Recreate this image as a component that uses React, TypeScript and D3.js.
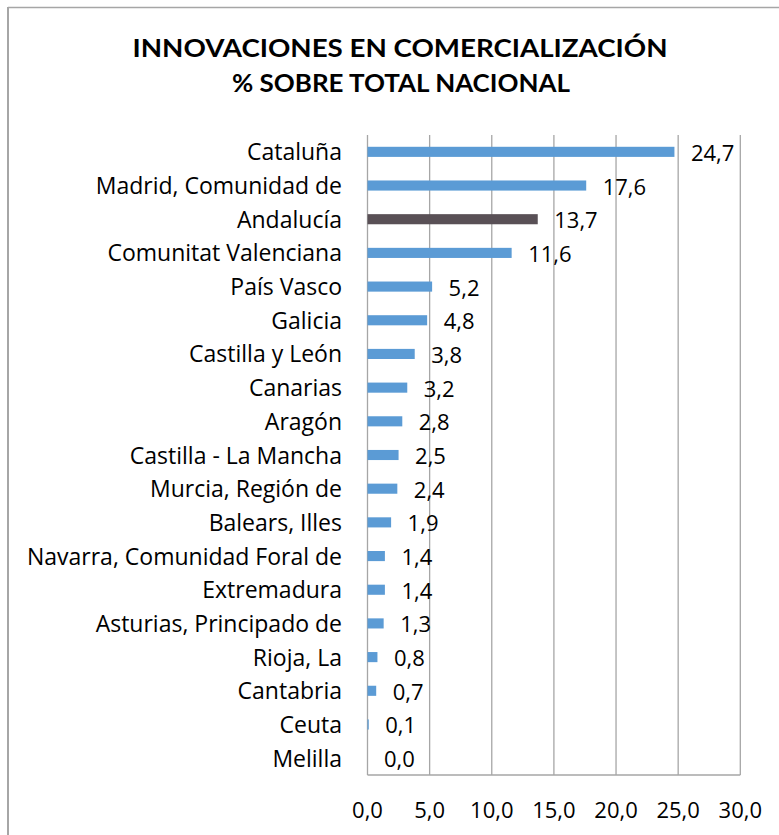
import { useMemo } from 'react'
import * as d3 from 'd3'

const WIDTH = 779
const HEIGHT = 835
const PLOT = { left: 367.5, right: 740.3, top: 135, bottom: 775 }

const regions = [
  'Cataluña',
  'Madrid, Comunidad de',
  'Andalucía',
  'Comunitat Valenciana',
  'País Vasco',
  'Galicia',
  'Castilla y León',
  'Canarias',
  'Aragón',
  'Castilla - La Mancha',
  'Murcia, Región de',
  'Balears, Illes',
  'Navarra, Comunidad Foral de',
  'Extremadura',
  'Asturias, Principado de',
  'Rioja, La',
  'Cantabria',
  'Ceuta',
  'Melilla',
]
const values = [24.7, 17.6, 13.7, 11.6, 5.2, 4.8, 3.8, 3.2, 2.8, 2.5, 2.4, 1.9, 1.4, 1.4, 1.3, 0.8, 0.7, 0.1, 0.0]
const ticks = [0, 5, 10, 15, 20, 25, 30]
const highlight = 'Andalucía'

const FONT = '"Open Sans", Lato, sans-serif'
const TITLE_FONT = 'Lato, "Open Sans", sans-serif'
const fmt = (v: number) => v.toFixed(1).replace('.', ',')

export default function App() {
  const rows = useMemo(() => regions.map((name, i) => ({ name, value: values[i] })), [])

  const x = d3.scaleLinear().domain([0, 30]).range([PLOT.left, PLOT.right])
  const y = d3.scaleBand().domain(regions).range([PLOT.top, PLOT.bottom]).paddingInner(0.7).paddingOuter(0.35)
  const mid = (name: string) => (y(name) ?? 0) + y.bandwidth() / 2

  return (
    <svg width={WIDTH} height={HEIGHT} style={{ display: 'block', position: 'absolute', left: 0, top: 0 }}>
      <rect width={WIDTH} height={HEIGHT} fill="#fff" />
      {/* chart border */}
      <line x1={8} x2={WIDTH} y1={7.5} y2={7.5} stroke="#a6a6a6" strokeWidth={1.5} />
      <line x1={8} x2={8} y1={7} y2={HEIGHT} stroke="#a6a6a6" strokeWidth={2} />

      <text x={400} y={57} textAnchor="middle" fontFamily={TITLE_FONT} fontWeight={700} fontSize={25}
        textLength={535} lengthAdjust="spacingAndGlyphs" fill="#000">
        INNOVACIONES EN  COMERCIALIZACIÓN
      </text>
      <text x={401} y={92} textAnchor="middle" fontFamily={TITLE_FONT} fontWeight={700} fontSize={24}
        textLength={338} lengthAdjust="spacingAndGlyphs" fill="#000">
        %  SOBRE TOTAL NACIONAL
      </text>

      {/* gridlines */}
      {ticks.map(t => (
        <line key={t} x1={x(t)} x2={x(t)} y1={PLOT.top} y2={PLOT.bottom} stroke="#a6a6a6" strokeWidth={1.3} />
      ))}
      <line x1={PLOT.left} x2={PLOT.right} y1={PLOT.bottom} y2={PLOT.bottom} stroke="#a6a6a6" strokeWidth={1.3} />

      {/* bars */}
      {rows.map(d => (
        <rect key={d.name} x={x(0)} y={y(d.name)} width={x(d.value) - x(0)} height={y.bandwidth()}
          fill={d.name === highlight ? '#595056' : '#5b9bd5'} />
      ))}

      {/* category labels */}
      {rows.map(d => (
        <text key={d.name} x={342} y={mid(d.name) + 8.5} textAnchor="end"
          fontFamily={FONT} fontSize={23} fill="#000">
          {d.name}
        </text>
      ))}

      {/* value labels */}
      {rows.map(d => (
        <text key={d.name} x={x(d.value) + 16.5} y={mid(d.name) + 9} fontFamily={FONT} fontSize={22} fill="#000">
          {fmt(d.value)}
        </text>
      ))}

      {/* x tick labels */}
      {ticks.map(t => (
        <text key={t} x={x(t)} y={818} textAnchor="middle" fontFamily={FONT} fontSize={22} fill="#000">
          {fmt(t)}
        </text>
      ))}
    </svg>
  )
}
